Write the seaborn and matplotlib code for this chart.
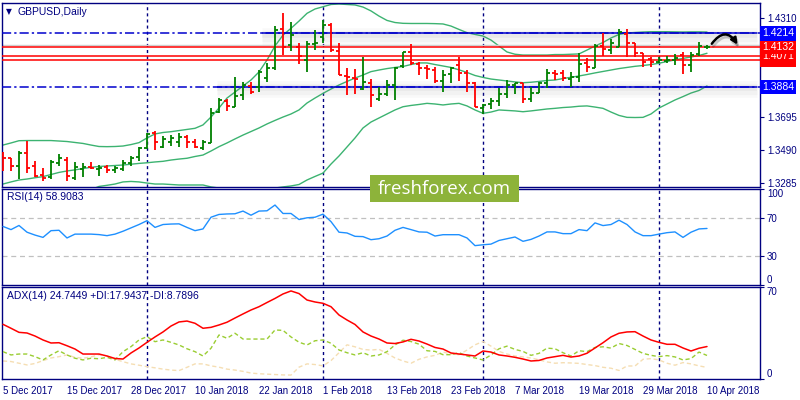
import numpy as np
import pandas as pd
import matplotlib
matplotlib.use('Agg')
import matplotlib.pyplot as plt
import matplotlib.patheffects as pe
from matplotlib.transforms import blended_transform_factory
from matplotlib.patches import Rectangle
import seaborn as sns

sns.set_style('white')
plt.rcParams['font.family'] = ['Liberation Sans', 'DejaVu Sans']

# --- daily GBPUSD bars (5 Dec 2017 .. 10 Apr 2018) ---
open_ = [1.3459, 1.3439, 1.3391, 1.3474, 1.3391, 1.3335, 1.3321, 1.3411, 1.3428, 1.3315,
         1.3370, 1.3387, 1.3372, 1.3387, 1.3366, 1.3372, 1.3408, 1.3445, 1.3501, 1.3594,
         1.3511, 1.3542, 1.3542, 1.3573, 1.3542, 1.3501, 1.3536, 1.3724, 1.3795, 1.3759,
         1.3832, 1.3888, 1.3880, 1.3936, 1.4001, 1.4240, 1.4142, 1.4130, 1.4049, 1.4147,
         1.4190, 1.4267, 1.4105, 1.3950, 1.3939, 1.3867, 1.3905, 1.3807, 1.3836, 1.3894,
         1.4014, 1.4097, 1.4023, 1.3998, 1.3987, 1.3919, 1.3962, 1.4018, 1.3967, 1.3908,
         1.3751, 1.3776, 1.3796, 1.3838, 1.3894, 1.3905, 1.3805, 1.3846, 1.3905, 1.3967,
         1.3967, 1.3929, 1.3942, 1.4029, 1.4001, 1.4136, 1.4111, 1.4132, 1.4209, 1.4153,
         1.4091, 1.4053, 1.4039, 1.4045, 1.4049, 1.4080, 1.4018, 1.4085, 1.4127]
high = [1.3480, 1.3441, 1.3484, 1.3548, 1.3424, 1.3377, 1.3428, 1.3466, 1.3445, 1.3416,
        1.3408, 1.3416, 1.3397, 1.3397, 1.3393, 1.3428, 1.3453, 1.3511, 1.3594, 1.3610,
        1.3577, 1.3583, 1.3594, 1.3583, 1.3557, 1.3552, 1.3749, 1.3815, 1.3807, 1.3942,
        1.3914, 1.3914, 1.3987, 1.4029, 1.4260, 1.4343, 1.4287, 1.4157, 1.4169, 1.4236,
        1.4298, 1.4277, 1.4153, 1.3998, 1.3991, 1.4070, 1.3929, 1.3880, 1.3925, 1.4008,
        1.4101, 1.4149, 1.4039, 1.4018, 1.4008, 1.3987, 1.4008, 1.4070, 1.3987, 1.3914,
        1.3776, 1.3811, 1.3877, 1.3925, 1.3908, 1.3908, 1.3883, 1.3914, 1.3991, 1.3987,
        1.3987, 1.3977, 1.4091, 1.4060, 1.4149, 1.4215, 1.4178, 1.4240, 1.4240, 1.4153,
        1.4095, 1.4066, 1.4066, 1.4074, 1.4087, 1.4101, 1.4101, 1.4163, 1.4142]
low = [1.3362, 1.3362, 1.3310, 1.3349, 1.3325, 1.3300, 1.3308, 1.3391, 1.3298, 1.3304,
       1.3325, 1.3370, 1.3329, 1.3346, 1.3346, 1.3360, 1.3393, 1.3424, 1.3495, 1.3490,
       1.3505, 1.3517, 1.3511, 1.3501, 1.3501, 1.3490, 1.3532, 1.3722, 1.3733, 1.3756,
       1.3801, 1.3836, 1.3852, 1.3911, 1.3987, 1.4080, 1.4107, 1.4024, 1.3977, 1.4111,
       1.4153, 1.4097, 1.3956, 1.3832, 1.3836, 1.3863, 1.3759, 1.3795, 1.3828, 1.3801,
       1.3998, 1.4018, 1.3956, 1.3931, 1.3905, 1.3852, 1.3905, 1.3919, 1.3852, 1.3756,
       1.3714, 1.3743, 1.3764, 1.3811, 1.3838, 1.3780, 1.3790, 1.3842, 1.3874, 1.3925,
       1.3919, 1.3883, 1.3911, 1.3977, 1.3998, 1.4074, 1.4087, 1.4132, 1.4066, 1.4066,
       1.4008, 1.4004, 1.4029, 1.4029, 1.4018, 1.3962, 1.3977, 1.4076, 1.4116]
close = [1.3439, 1.3391, 1.3474, 1.3377, 1.3329, 1.3315, 1.3418, 1.3439, 1.3329, 1.3383,
         1.3387, 1.3377, 1.3380, 1.3366, 1.3377, 1.3408, 1.3443, 1.3501, 1.3588, 1.3542,
         1.3557, 1.3567, 1.3569, 1.3538, 1.3511, 1.3538, 1.3722, 1.3801, 1.3764, 1.3828,
         1.3894, 1.3852, 1.3977, 1.3998, 1.4236, 1.4132, 1.4204, 1.4074, 1.4149, 1.4155,
         1.4267, 1.4111, 1.3956, 1.3946, 1.3929, 1.3914, 1.3832, 1.3836, 1.3894, 1.3998,
         1.4097, 1.4032, 1.3998, 1.3991, 1.3919, 1.3956, 1.3998, 1.3967, 1.3908, 1.3756,
         1.3770, 1.3796, 1.3838, 1.3894, 1.3905, 1.3805, 1.3846, 1.3905, 1.3970, 1.3962,
         1.3936, 1.3942, 1.4024, 1.4008, 1.4134, 1.4118, 1.4153, 1.4221, 1.4153, 1.4095,
         1.4039, 1.4039, 1.4049, 1.4049, 1.4060, 1.4018, 1.4080, 1.4136, 1.4133]

# Bollinger bands
bb_mid = [1.3279, 1.3292, 1.3304, 1.3310, 1.3318, 1.3325, 1.3338, 1.3351, 1.3360, 1.3367,
          1.3375, 1.3383, 1.3388, 1.3391, 1.3394, 1.3397, 1.3402, 1.3407, 1.3411, 1.3416,
          1.3420, 1.3428, 1.3434, 1.3439, 1.3450, 1.3459, 1.3484, 1.3511, 1.3534, 1.3559,
          1.3583, 1.3605, 1.3627, 1.3652, 1.3674, 1.3695, 1.3714, 1.3739, 1.3782, 1.3813,
          1.3842, 1.3869, 1.3894, 1.3916, 1.3937, 1.3956, 1.3977, 1.3987, 1.3996, 1.4003,
          1.4009, 1.4021, 1.4031, 1.4031, 1.4021, 1.4012, 1.4003, 1.3988, 1.3972, 1.3953,
          1.3941, 1.3931, 1.3925, 1.3919, 1.3913, 1.3908, 1.3911, 1.3916, 1.3922, 1.3925,
          1.3934, 1.3942, 1.3950, 1.3959, 1.3969, 1.3978, 1.3987, 1.3996, 1.4003, 1.4010,
          1.4015, 1.4021, 1.4029, 1.4040, 1.4050, 1.4059, 1.4068, 1.4077, 1.4091]
bb_up = [1.3521, 1.3534, 1.3548, 1.3549, 1.3549, 1.3549, 1.3549, 1.3546, 1.3543, 1.3537,
         1.3531, 1.3521, 1.3512, 1.3511, 1.3512, 1.3515, 1.3524, 1.3536, 1.3565, 1.3590,
         1.3599, 1.3604, 1.3611, 1.3618, 1.3625, 1.3646, 1.3695, 1.3751, 1.3813, 1.3850,
         1.3888, 1.3925, 1.3975, 1.4049, 1.4136, 1.4204, 1.4246, 1.4291, 1.4339, 1.4366,
         1.4380, 1.4394, 1.4397, 1.4394, 1.4391, 1.4378, 1.4354, 1.4322, 1.4295, 1.4282,
         1.4277, 1.4276, 1.4276, 1.4276, 1.4275, 1.4273, 1.4260, 1.4239, 1.4219, 1.4208,
         1.4198, 1.4173, 1.4136, 1.4099, 1.4085, 1.4080, 1.4080, 1.4080, 1.4080, 1.4083,
         1.4083, 1.4085, 1.4087, 1.4111, 1.4136, 1.4158, 1.4186, 1.4208, 1.4217, 1.4220,
         1.4223, 1.4225, 1.4225, 1.4225, 1.4224, 1.4223, 1.4224, 1.4224, 1.4223]
bb_low = [1.3037, 1.3049, 1.3062, 1.3071, 1.3087, 1.3099, 1.3127, 1.3155, 1.3177, 1.3198,
          1.3220, 1.3244, 1.3264, 1.3271, 1.3279, 1.3292, 1.3295, 1.3292, 1.3285, 1.3279,
          1.3279, 1.3276, 1.3273, 1.3273, 1.3273, 1.3273, 1.3261, 1.3254, 1.3242, 1.3236,
          1.3236, 1.3236, 1.3242, 1.3248, 1.3254, 1.3261, 1.3267, 1.3276, 1.3304, 1.3326,
          1.3347, 1.3403, 1.3453, 1.3509, 1.3565, 1.3627, 1.3664, 1.3689, 1.3714, 1.3739,
          1.3759, 1.3767, 1.3773, 1.3780, 1.3776, 1.3770, 1.3776, 1.3780, 1.3764, 1.3739,
          1.3718, 1.3726, 1.3739, 1.3736, 1.3733, 1.3728, 1.3733, 1.3739, 1.3745, 1.3749,
          1.3754, 1.3757, 1.3762, 1.3764, 1.3757, 1.3749, 1.3726, 1.3705, 1.3693, 1.3692,
          1.3693, 1.3714, 1.3751, 1.3776, 1.3801, 1.3822, 1.3844, 1.3860, 1.3888]

rsi = [61, 57.7, 62, 55, 52, 49.6, 56.6, 57, 49, 53,
       53, 53, 52.5, 51.4, 53, 56, 59.5, 63, 67, 60,
       63, 63.5, 63.7, 60, 56.6, 58.4, 70.6, 73.5, 74, 74.2,
       77, 72.7, 77, 77.3, 83.3, 74.5, 74.5, 68.2, 70, 70.6,
       73.8, 66, 55, 54.2, 50.7, 50.4, 47.2, 48.2, 51, 57,
       60, 57.7, 55.3, 55, 51, 52.4, 52.4, 52.4, 49, 41,
       41.9, 42.6, 46.4, 48.2, 50, 45.5, 47.5, 51, 55.3, 55.3,
       53.5, 53.5, 57.7, 56.6, 64.7, 61.9, 63, 67.5, 63, 55.3,
       51.4, 51.4, 53, 54.5, 55.3, 49.6, 55, 58.4, 58.9]

adx = [41.6, 38.6, 35.5, 35, 32.7, 29.7, 27.4, 27.6, 25.3, 22.8,
       19, 19, 19, 17.5, 15.6, 15.2, 19.8, 23.6, 27.9, 32,
       35.8, 40.3, 43.4, 44.1, 42.4, 38.6, 39.3, 41.1, 43.2, 46.4,
       49.5, 52.5, 55, 58.2, 61.3, 64.7, 67, 65, 60.1, 58.6,
       57.6, 55, 48.7, 44.9, 41.5, 35.8, 32.7, 30.4, 27.4, 27,
       28.2, 30.2, 28.9, 26.6, 24, 22.8, 19.8, 19, 18.3, 17.5,
       21.3, 20.5, 18.3, 17.5, 16.5, 15.2, 13.7, 14.1, 16, 17,
       18, 16.7, 17.5, 19.6, 23.6, 27.6, 32, 34.8, 35.8, 36,
       32.7, 29.7, 27.9, 26.4, 26.4, 23.6, 21.3, 23.4, 24.7]
plus_di = [20.8, 18.3, 19, 19, 17, 14.5, 18.3, 21.5, 18.3, 15.8,
           14.5, 15.8, 15.4, 16.5, 14.5, 20.8, 24.6, 29.7, 32.2, 28.4,
           29.7, 27.9, 25.9, 23, 20.8, 17.5, 23.4, 33.5, 31, 34.8,
           30.4, 30.4, 30.4, 30.4, 37.3, 37, 32, 28, 25.9, 29.1,
           29.7, 27.2, 22.1, 20, 18.3, 20, 17.5, 18.3, 20.8, 25.9,
           29.5, 28.5, 26.5, 21.5, 21, 18.5, 18.5, 20, 17.5, 16,
           14.5, 18.3, 23, 25, 22.5, 21, 18, 19.5, 23.5, 23,
           20, 17.5, 21.5, 20.8, 24, 24.5, 23.5, 27, 25.5, 22.5,
           19.5, 18, 17, 17.8, 16.8, 14.5, 15.5, 20.5, 17.9]
minus_di = [13.7, 13.3, 12, 10.7, 11.8, 14, 16, 17, 18.3, 16.5,
            15.8, 16.8, 18.5, 17.5, 15, 13.2, 11.5, 10.5, 9.4, 8.5,
            7.5, 6.8, 6.4, 8.9, 11.5, 11.5, 10, 9, 7.5, 6.8,
            5.8, 4.5, 4, 3.7, 3.4, 3.1, 3, 9, 11.5, 11,
            10, 14, 20, 26, 24.5, 22.5, 22, 22.6, 19.5, 16,
            13.7, 12, 15, 16.8, 18, 20.5, 19, 18.5, 22, 26,
            28.5, 25, 21, 19, 17.5, 16.8, 16, 14.6, 13, 12,
            12.4, 12.2, 11.9, 11, 10.2, 8.9, 8.2, 6.5, 9.9, 9.9,
            15, 15.5, 14.5, 12, 10.5, 12.5, 11.5, 10, 8.8]

date_labels = ['5 Dec 2017', '15 Dec 2017', '28 Dec 2017', '10 Jan 2018', '22 Jan 2018',
               '1 Feb 2018', '13 Feb 2018', '23 Feb 2018', '7 Mar 2018', '19 Mar 2018',
               '29 Mar 2018', '10 Apr 2018']
label_bars = [0, 8, 16, 24, 32, 40, 48, 56, 64, 72, 80, 88]
period_bars = [18, 40, 60, 82]

price_ticks = [1.4310, 1.3695, 1.3490, 1.3285]
resist_level = 1.4214
support_level = 1.3884
red_levels = [1.4132, 1.4071, 1.4049]
ask_level = 1.4142
resist_start, support_start, lines_end = 32.4, 26.75, 94.25
arrow_from, arrow_to = (88.4, 1.4136), (92.0, 1.4130)

NAVY = '#000080'
UP, DOWN = '#008000', '#ff0000'
BAND = '#3cb371'

df = pd.DataFrame({'bar': np.arange(len(close)), 'open': open_, 'high': high, 'low': low,
                   'close': close, 'mid': bb_mid, 'up': bb_up, 'lo': bb_low,
                   'rsi': rsi, 'adx': adx, 'pdi': plus_di, 'mdi': minus_di})

fig = plt.figure(figsize=(8, 4), dpi=100)
ax_p = fig.add_axes([2/800, 1 - 187/400, 758/800, 184/400])
ax_r = fig.add_axes([2/800, 1 - 285/400, 758/800, 96/400])
ax_a = fig.add_axes([2/800, 1 - 379/400, 758/800, 92/400])
XLIM = (-0.125, 94.625)

for ax in (ax_p, ax_r, ax_a):
    ax.set_xlim(*XLIM)
    for s in ax.spines.values():
        s.set_color(NAVY)
        s.set_linewidth(1)
    ax.yaxis.tick_right()
    ax.tick_params(axis='y', direction='out', length=3, color=NAVY, labelcolor=NAVY,
                   labelsize=7, pad=2, width=0.8)
    for b in period_bars:
        ax.axvline(b, color=NAVY, ls=(0, (2.2, 2.2)), lw=1, zorder=1)

# ---- price panel ----
ax_p.set_ylim(1.32605, 1.44032)
ax_p.set_xticks([])
ax_p.set_yticks(price_ticks)
ax_p.set_yticklabels([f'{v:.4f}' for v in price_ticks])

for col in ('up', 'mid', 'lo'):
    sns.lineplot(data=df, x='bar', y=col, ax=ax_p, color=BAND, lw=1.0, zorder=2)
ax_p.set_xlabel('')
ax_p.set_ylabel('')

ax_p.axhline(ask_level, color='#cfcfcf', lw=1, zorder=2)
for lv in red_levels:
    ax_p.axhline(lv, color='#ff0000', lw=1.1, zorder=3)

shadow = [pe.Stroke(linewidth=12, foreground='#707070', alpha=0.035, offset=(0, -2)),
          pe.Stroke(linewidth=8, foreground='#707070', alpha=0.05, offset=(0, -1.5)),
          pe.Stroke(linewidth=4, foreground='#707070', alpha=0.07, offset=(0, -1)),
          pe.Normal()]
for lv, start in ((resist_level, resist_start), (support_level, support_start)):
    ax_p.axhline(lv, color='#0000cd', lw=1.1, ls=(0, (6, 2, 1.5, 2)), zorder=3)
    ax_p.hlines(lv, start, lines_end, color='#0000cd', lw=1.1, zorder=4,
                path_effects=shadow)

colors = np.where(df['close'] >= df['open'], UP, DOWN)
ax_p.vlines(df['bar'], df['low'], df['high'], colors=colors, lw=1.3, zorder=5)
ax_p.hlines(df['open'], df['bar'] - 0.35, df['bar'], colors=colors, lw=1.3, zorder=5)
ax_p.hlines(df['close'], df['bar'], df['bar'] + 0.35, colors=colors, lw=1.3, zorder=5)

ax_p.annotate('', xy=arrow_to, xytext=arrow_from,
              arrowprops=dict(arrowstyle='-|>', color='black', lw=1.8, mutation_scale=9,
                              connectionstyle='arc3,rad=-0.8',
                              path_effects=[pe.SimpleLineShadow(offset=(1, -2), alpha=0.2),
                                            pe.Normal()]),
              zorder=8)

tr = blended_transform_factory(ax_p.transAxes, ax_p.transData)
for val, fc in ((red_levels[2], '#ff0000'), (red_levels[1], '#ff0000'),
                (red_levels[0], '#ff0000'), (resist_level, '#0000ff'),
                (support_level, '#0000ff')):
    ax_p.text(1.003, val, f'{val:.4f}', transform=tr, ha='left', va='center',
              fontsize=7.5, color='white', clip_on=False, zorder=10,
              bbox=dict(boxstyle='square,pad=0.2', fc=fc, ec='none'))

# ---- RSI panel ----
ax_r.set_ylim(0, 100)
ax_r.set_xticks([])
ax_r.axhline(70, color='#c0c0c0', ls=(0, (4, 3)), lw=0.9)
ax_r.axhline(30, color='#c0c0c0', ls=(0, (4, 3)), lw=0.9)
sns.lineplot(data=df, x='bar', y='rsi', ax=ax_r, color='#1e90ff', lw=1.0, zorder=3)
ax_r.set_xlabel('')
ax_r.set_ylabel('')
ax_r.set_yticks([100, 70, 30, 0])
ax_r.set_yticklabels(['100', '70', '30', '0'])
ax_r.get_yticklabels()[0].set_va('top')
ax_r.get_yticklabels()[-1].set_va('bottom')

# ---- ADX panel ----
ax_a.set_ylim(0, 70)
sns.lineplot(data=df, x='bar', y='mdi', ax=ax_a, color='#f5deb3', lw=1.0,
             ls=(0, (3, 2)), zorder=2)
sns.lineplot(data=df, x='bar', y='pdi', ax=ax_a, color='#9acd32', lw=1.0,
             ls=(0, (3, 2)), zorder=3)
sns.lineplot(data=df, x='bar', y='adx', ax=ax_a, color='#ff0000', lw=1.1, zorder=4)
ax_a.set_xlabel('')
ax_a.set_ylabel('')
ax_a.set_yticks([70, 0])
ax_a.set_yticklabels(['70', '0'])
ax_a.get_yticklabels()[0].set_va('top')
ax_a.get_yticklabels()[1].set_va('bottom')
ax_a.set_xticks(label_bars)
ax_a.set_xticklabels(date_labels, ha='left')
ax_a.tick_params(axis='x', direction='out', length=3, color=NAVY, labelcolor=NAVY,
                 labelsize=7, pad=2, width=0.8)

# ---- titles and watermark ----
fig.text(6/800, 1 - 12/400, '\u25bc', fontsize=5.5, color=NAVY, va='center',
         family=['DejaVu Sans'])
fig.text(18/800, 1 - 12/400, 'GBPUSD,Daily', fontsize=7.5, color=NAVY, va='center')
fig.text(7/800, 1 - 197/400, 'RSI(14) 58.9083', fontsize=7.5, color=NAVY, va='center')
fig.text(7/800, 1 - 296/400, 'ADX(14) 24.7449 +DI:17.9437 -DI:8.7896', fontsize=7.5,
         color=NAVY, va='center')

fig.patches.append(Rectangle((370/800, 1 - 202/400), 149/800, 27/400,
                             transform=fig.transFigure, fc='#8db33a', ec='none', zorder=20))
fig.text(444/800, 1 - 189/400, 'freshforex.com', fontsize=13.5, color='white',
         ha='center', va='center', family=['Open Sans', 'DejaVu Sans'], zorder=21)

fig.savefig('out.png', dpi=100, facecolor='white')
